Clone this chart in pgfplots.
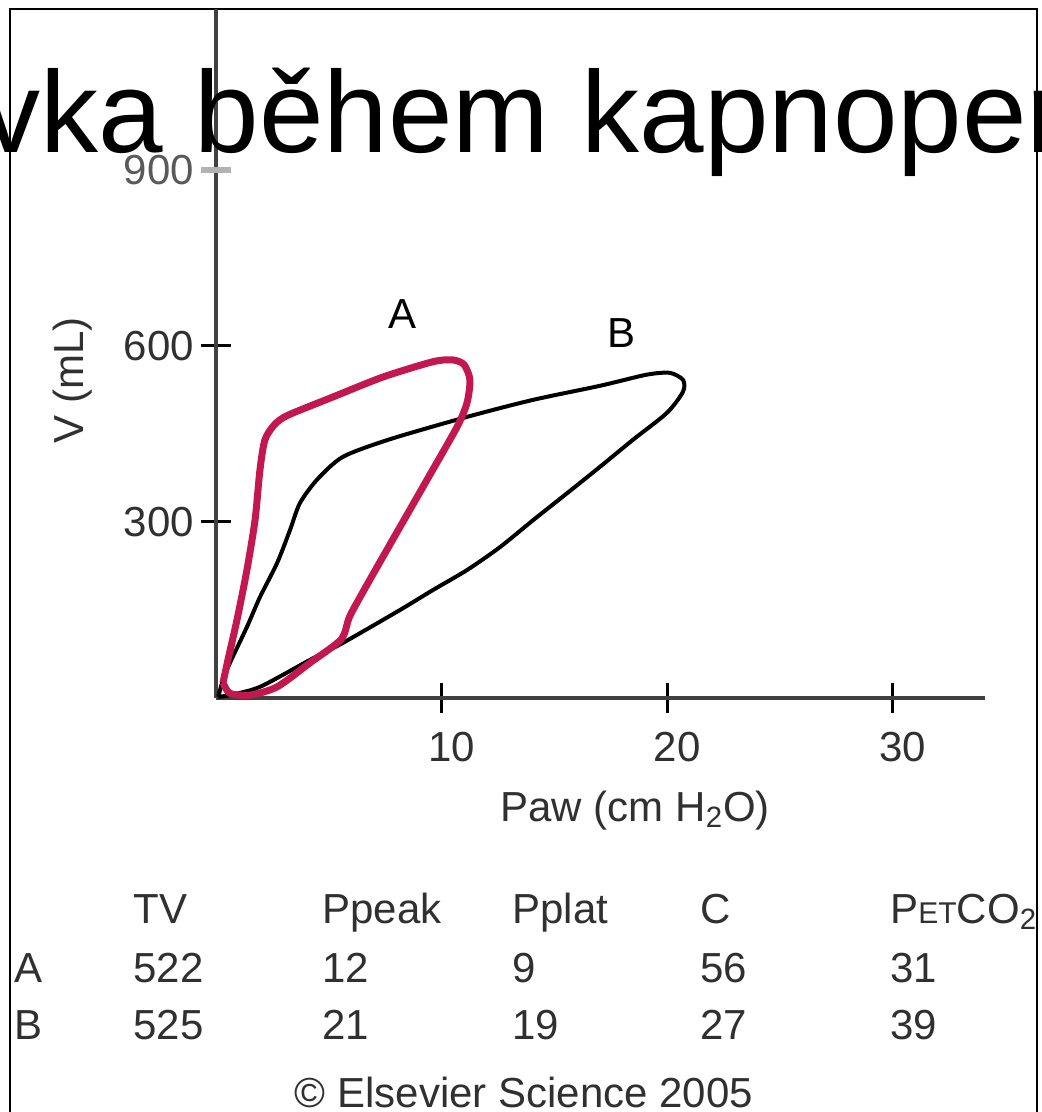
\documentclass[border=0pt]{standalone}
\usepackage{fontspec}
\setmainfont{Liberation Sans}
\usepackage{pgfplots}
\pgfplotsset{compat=1.18}

\definecolor{loopA}{HTML}{C2184F}
\definecolor{axisgray}{HTML}{404040}
\definecolor{txt}{HTML}{303030}
\newcommand\lab{\fontsize{21}{25}\selectfont}
\newcommand\smallcap{\fontsize{15}{17}\selectfont}

\begin{document}
\begin{tikzpicture}[x=0.5pt,y=-0.5pt]
\useasboundingbox (0,0) rectangle (1041,1112);
\clip (0,0) rectangle (1041,1112);

% outer frame
\draw[line width=1pt, black] (10,1130) -- (10,9) -- (1037,9) -- (1037,1130);

\begin{axis}[
  at={(108pt,-349pt)}, anchor=south west,
  scale only axis, width=384.5pt, height=344.5pt,
  xmin=0, xmax=34.1, ymin=0, ymax=1174,
  clip=false,
  axis x line=bottom, axis y line=left,
  x axis line style={-, line width=2.2pt, axisgray},
  y axis line style={-, line width=1.8pt, axisgray},
  xtick={10,20,30}, ytick={300,600},
  extra y ticks={900},
  extra y tick style={major tick style={gray!60, line width=3pt},
    yticklabel style={text=black!65}},
  tick align=center, major tick length=15pt,
  major tick style={black, line width=1.5pt},
  ticklabel style={font=\lab, text=txt},
  xticklabel style={xshift=5pt, yshift=-6pt},
  /pgf/number format/assume math mode=true,
  xlabel={Paw (cm H\textsubscript{2}O)},
  ylabel={V (mL)},
  label style={font=\lab, text=txt},
  xlabel style={at={(axis description cs:0.545,-0.163)}, anchor=center},
  ylabel style={at={(axis description cs:-0.187,0.4615)}, anchor=center},
]
% loop B
\addplot[black, line width=2pt, smooth, tension=0.45, line join=round] coordinates {
  (0.10,2) (0.31,31) (0.62,60) (1.37,121) (1.95,172) (2.71,230) (3.28,286)
  (3.72,332) (4.48,372) (5.63,411) (7.72,441) (11.13,479) (14.06,508)
  (17.03,532) (19.11,551) (20.13,554) (20.71,542) (20.71,522) (20.0,486)
  (18.49,440) (17.03,394) (15.57,349) (14.06,303) (12.59,257) (11.13,218)
  (9.62,184) (8.16,150) (5.63,94) (4.17,65) (1.95,19) (0.62,5) (0.10,2)
};
% loop A
\addplot[loopA, line width=3.5pt, smooth, tension=0.45, line join=round] coordinates {
  (0.31,26) (0.53,65) (0.93,133) (1.37,218) (1.73,303) (1.95,389) (2.17,440)
  (2.6,466) (3.2,482) (5.19,513) (7.41,547) (9.62,573) (10.5,576) (11.0,568)
  (11.26,542) (11.13,503) (10.69,462) (9.36,372) (7.9,274) (6.83,202)
  (5.94,140) (5.55,100) (4.17,60) (2.71,19) (1.51,5) (0.62,8) (0.31,26)
};
\node[font=\lab, text=black] at (axis cs:8.29,654) {A};
\node[font=\lab, text=black] at (axis cs:17.96,622) {B};
\end{axis}

% heading
\node[anchor=base west, inner sep=0pt, font=\fontsize{58}{62}\selectfont]
  at (-160,153) {Křivka během kapnoperitonea};

% table of values
\begin{scope}[every node/.style={anchor=base west, inner sep=0pt, font=\lab, text=txt}]
\node at (133,923) {TV};
\node at (322,923) {Ppeak};
\node at (512,923) {Pplat};
\node at (700,923) {C};
\node at (890,923) {P{\smallcap ET}CO\textsubscript{2}};
\node at (14,982) {A};
\node at (133,982) {522};
\node at (322,982) {12};
\node at (512,982) {9};
\node at (700,982) {56};
\node at (890,982) {31};
\node at (14,1039) {B};
\node at (133,1039) {525};
\node at (322,1039) {21};
\node at (512,1039) {19};
\node at (700,1039) {27};
\node at (890,1039) {39};
\end{scope}
\node[anchor=base, inner sep=0pt, font=\lab, text=txt] at (524,1107) {© Elsevier Science 2005};
\end{tikzpicture}
\end{document}
